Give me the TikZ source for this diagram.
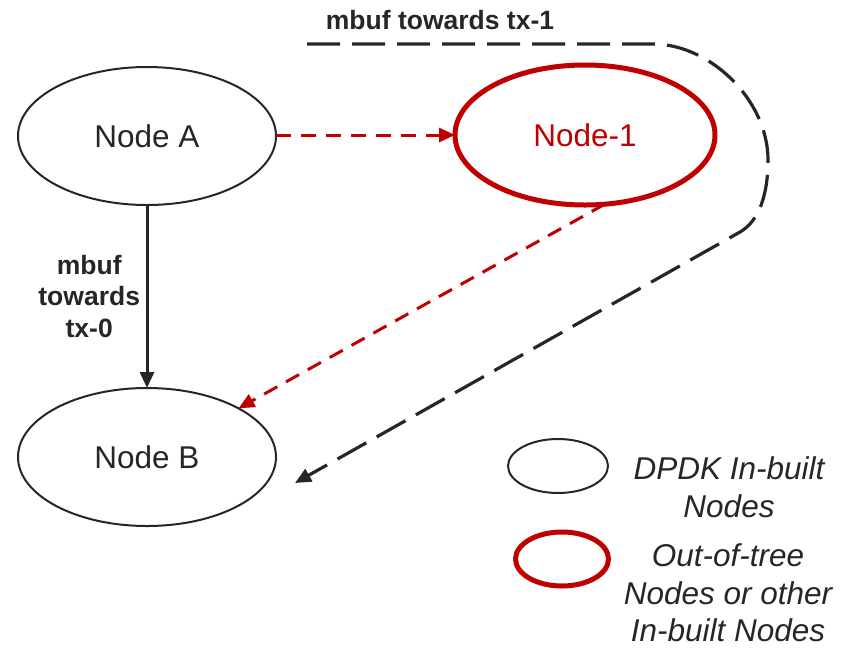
\documentclass[tikz,border=0pt]{standalone}
\usepackage{fontspec}
\setmainfont{Liberation Sans}
\usetikzlibrary{arrows.meta,shapes.geometric}
\definecolor{ink}{HTML}{262626}
\definecolor{dpdkred}{HTML}{C00000}
\begin{document}
\begin{tikzpicture}[x=1pt,y=-1pt,
  every node/.style={inner sep=0pt,outer sep=0pt,text=ink},
  builtin/.style={ellipse,draw=ink,line width=2pt,minimum width=258pt,minimum height=138pt,
    font=\fontsize{31.5}{38}\selectfont},
  oot/.style={ellipse,draw=dpdkred,line width=5pt,minimum width=260pt,minimum height=140pt,
    text=dpdkred,font=\fontsize{31.5}{38}\selectfont},
  lbl/.style={font=\bfseries\fontsize{26.5}{31.5}\selectfont,align=center},
  legtext/.style={font=\itshape\fontsize{31.5}{37.5}\selectfont,align=center},
  tip/.style={-{Triangle[length=16pt,width=14pt]}},
  reddash/.style={tip,draw=dpdkred,line width=3pt,dash pattern=on 15pt off 10pt},
  blackdash/.style={tip,draw=ink,line width=3.2pt,dash pattern=on 33pt off 12pt}]
\useasboundingbox (0,0) rectangle (854,649);

% graph nodes
\node[builtin] (a) at (147,136) {Node A};
\node[builtin] (b) at (147,457) {Node B};
\node[oot] (n1) at (585,135) {Node-1};

% direct path A -> B
\draw[tip,draw=ink,line width=3pt] (a) -- node[lbl,left=7pt] {mbuf\\towards\\tx-0} (b);

% path through Node-1
\draw[reddash] (a.east |- n1.west) -- (n1.west);
\draw[reddash] (n1.-74) -- (b.28);

% looping path towards tx-1
\coordinate (loopstart) at (307,44);
\coordinate (loopend) at (295,483);
\node[lbl] (looplbl) at (440,20) {mbuf towards tx-1};
\draw[blackdash] (loopstart) -- (653,44)
  .. controls (710,44) and (768,100) .. (768,160)
  .. controls (768,195) and (759,221) .. (740,232)
  -- (loopend);

% legend
\node[ellipse,draw=ink,line width=2pt,minimum width=100pt,minimum height=54pt] (legA) at (558,466) {};
\node[ellipse,draw=dpdkred,line width=5pt,minimum width=93pt,minimum height=54pt] (legB) at (562,559) {};
\node[legtext] (legAtext) at (729,487) {DPDK In-built\\Nodes};
\node[legtext] (legBtext) at (728,593) {Out-of-tree\\Nodes or other\\In-built Nodes};
\end{tikzpicture}
\end{document}
